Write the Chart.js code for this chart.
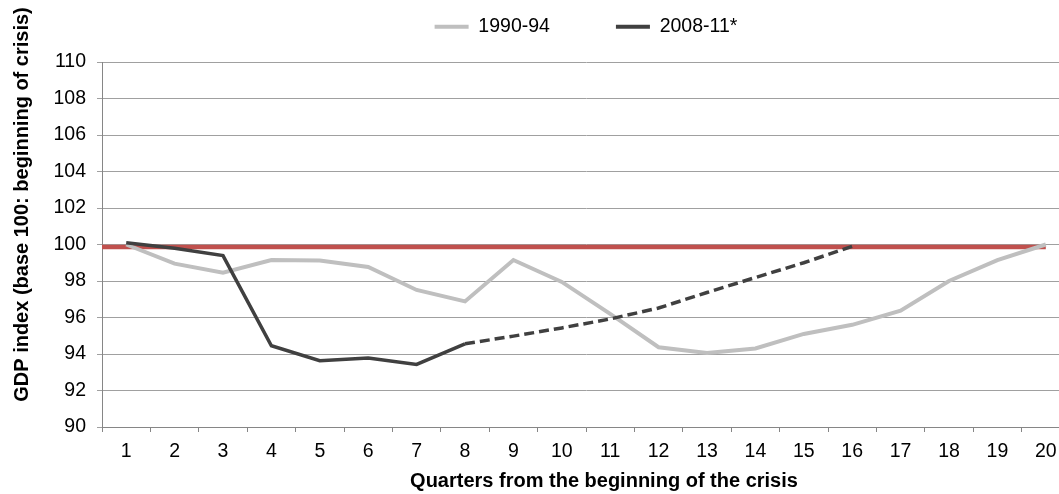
<!DOCTYPE html>
<html>
<head>
<meta charset="utf-8">
<script src="https://cdn.jsdelivr.net/npm/chart.js@4.4.1/dist/chart.umd.min.js"></script>
<style>
  html, body { margin: 0; padding: 0; background: #fff; overflow: hidden; }
  #wrap { position: relative; width: 1070px; height: 494px; }
</style>
</head>
<body>
<div id="wrap"><canvas id="chart"></canvas></div>
<script>
// GDP index around two crises, quarters 1..20 from the start of each crisis
const quarters = ["1","2","3","4","5","6","7","8","9","10","11","12","13","14","15","16","17","18","19","20"];
const crisis1990 = [100.0, 98.95, 98.46, 99.15, 99.12, 98.77, 97.51, 96.88, 99.15, 97.95,
                    96.2, 94.37, 94.05, 94.3, 95.1, 95.6, 96.37, 98.0, 99.14, 100.0];
// 2008-11: actual through quarter 8, projection (dashed) after that
const crisis2008 = [100.1, 99.79, 99.39, 94.45, 93.63, 93.78, 93.43, 94.56, 94.98, 95.43,
                    95.92, 96.52, 97.37, 98.19, 99.0, 99.9, null, null, null, null];
const lastActual = 7; // index of quarter 8
const baseLine = 99.86; // red reference level
const yTicks = [90, 92, 94, 96, 98, 100, 102, 104, 106, 108, 110];

const FONT = "'Liberation Sans', Arial, sans-serif";
const GREY = "#bfbfbf";
const DARK = "#404040";
const RED = "#c0504d";

const X_TITLE = "Quarters from the beginning of the crisis";
const Y_TITLE = "GDP index (base 100: beginning of crisis)";

// legend sits high, with a gap under it before the plot starts
const legendGap = {
  id: "legendGap",
  beforeInit(chart) {
    const fit = chart.legend.fit;
    chart.legend.fit = function () { fit.call(this); this.height += 15.5; };
  },
};

// axis titles, placed the way the original spreadsheet put them
const axisTitles = {
  id: "axisTitles",
  afterDraw(chart) {
    const { ctx, chartArea: a } = chart;
    ctx.save();
    ctx.fillStyle = "#000";
    ctx.font = `bold 20px ${FONT}`;
    ctx.textAlign = "center";
    ctx.textBaseline = "middle";
    ctx.fillText(X_TITLE, (a.left + a.right) / 2 + 18, a.bottom + 54);
    ctx.translate(22.5, (a.top + a.bottom) / 2 - 40);
    ctx.rotate(-Math.PI / 2);
    ctx.fillText(Y_TITLE, 0, 0);
    ctx.restore();
  },
};

new Chart(document.getElementById("chart"), {
  type: "line",
  data: {
    labels: quarters,
    datasets: [
      {
        label: "1990-94",
        data: crisis1990,
        borderColor: GREY,
        backgroundColor: GREY,
        borderWidth: 4,
        pointRadius: 0,
        tension: 0,
        order: 1,
      },
      {
        label: "2008-11*",
        data: crisis2008,
        borderColor: DARK,
        backgroundColor: DARK,
        borderWidth: 3.5,
        pointRadius: 0,
        tension: 0,
        order: 0,
        segment: {
          borderDash: (ctx) => (ctx.p0DataIndex >= lastActual ? [10, 5] : undefined),
        },
      },
      {
        label: "base",
        xAxisID: "xr",
        data: [{ x: 0, y: baseLine }, { x: quarters.length - 0.5, y: baseLine }],
        borderColor: RED,
        backgroundColor: RED,
        borderWidth: 4.5,
        pointRadius: 0,
        order: 2,
      },
    ],
  },
  plugins: [legendGap, axisTitles],
  options: {
    responsive: true,
    maintainAspectRatio: false,
    animation: false,
    layout: { padding: { top: -49, right: 0, bottom: 22.6, left: 0 } },
    plugins: {
      tooltip: { enabled: false },
      legend: {
        position: "top",
        fullSize: false,
        labels: {
          font: { family: FONT, size: 19.5 },
          color: "#000",
          boxWidth: 34,
          boxHeight: 4,
          padding: 66,
          sort: (a, b) => a.datasetIndex - b.datasetIndex,
          generateLabels: (chart) =>
            Chart.defaults.plugins.legend.labels.generateLabels(chart)
              .filter((l) => l.text !== "base")
              .map((l) => ({ ...l, lineWidth: 0, lineDash: [], fillStyle: l.strokeStyle })),
        },
      },
    },
    scales: {
      x: {
        type: "category",
        offset: true,
        border: { color: "#868686", width: 1 },
        grid: { drawOnChartArea: false, drawTicks: true, tickLength: 5, color: "#868686", offset: true },
        ticks: { font: { family: FONT, size: 19.5 }, color: "#000", padding: 8, maxRotation: 0, autoSkip: false },
      },
      xr: {
        type: "linear",
        display: false,
        min: 0,
        max: quarters.length,
      },
      y: {
        min: 90,
        max: 110,
        afterFit: (scale) => { scale.width = 102; },
        afterBuildTicks: (scale) => { scale.ticks = yTicks.map((v) => ({ value: v })); },
        border: { color: "#868686", width: 1 },
        grid: { color: "#a0a0a0", lineWidth: 1, tickLength: 5, drawTicks: true },
        ticks: { font: { family: FONT, size: 19.5 }, color: "#000", padding: 11 },
      },
    },
  },
});
</script>
</body>
</html>
